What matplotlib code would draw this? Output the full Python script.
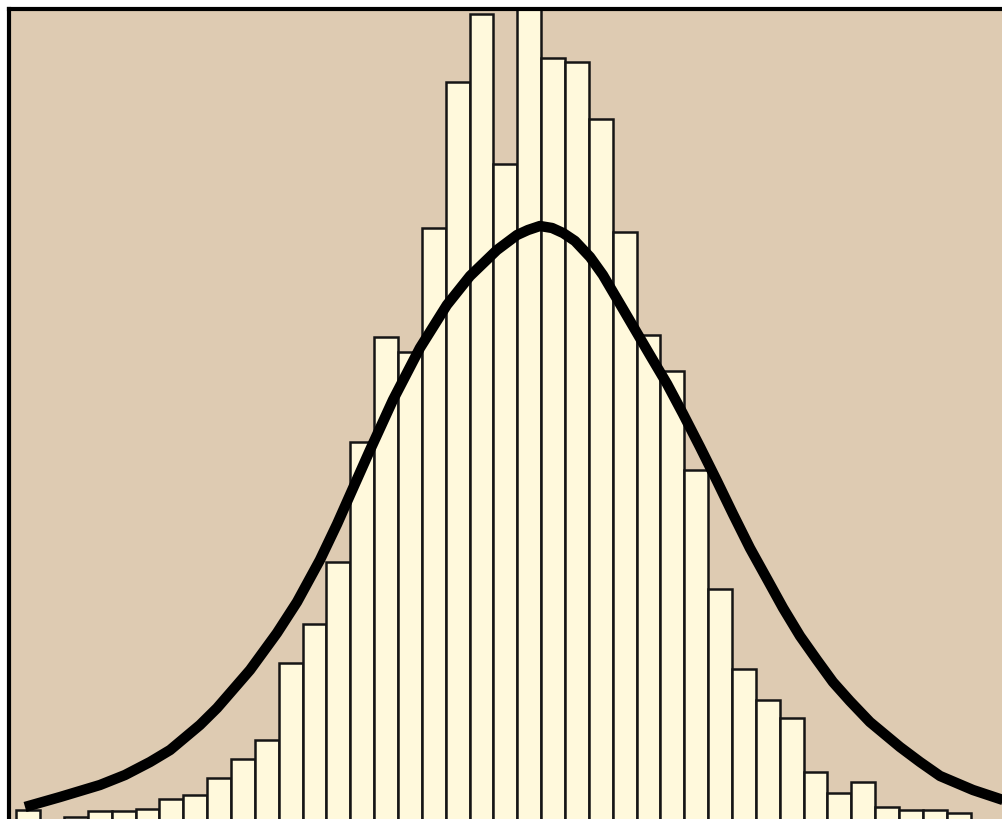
import matplotlib
matplotlib.use("Agg")
import matplotlib.pyplot as plt
import numpy as np

# Histogram bin heights (bin index 0..39)
bin_heights = [12, 0, 5, 11, 11, 13, 23, 27, 44, 63, 82, 159, 198, 260, 380,
               485, 470, 594, 740, 808, 658, 815, 764, 760, 703, 590, 487, 451,
               352, 233, 153, 122, 104, 50, 29, 40, 15, 12, 12, 9]

# Density curve points (same x units as bins)
curve_x = [0.37, 1.84, 3.51, 4.56, 5.61, 6.45, 7.70, 8.42, 9.80, 10.93, 11.77,
           12.73, 13.45, 14.12, 14.83, 15.79, 16.92, 18.05, 19.02, 20.15, 20.99,
           21.45, 21.95, 22.46, 22.92, 23.42, 24.05, 24.59, 25.43, 26.56, 27.28,
           27.95, 28.66, 29.37, 30.04, 30.75, 31.47, 32.14, 32.85, 33.56, 34.23,
           34.94, 35.78, 37.04, 37.88, 38.72, 40.10, 41.36]
curve_y = [15, 25, 37, 47, 60, 72, 97, 114, 152, 189, 220,
           262, 298, 334, 372, 422, 474, 517, 546, 572, 587,
           592, 596, 594, 589, 581, 565, 547, 513, 467, 438,
           408, 375, 341, 308, 274, 243, 214, 186, 162, 140,
           121, 100, 75, 60, 46, 32, 22]

W, H = 1003, 819
fig = plt.figure(figsize=(W / 100, H / 100), dpi=100, facecolor="white")

# axes: left/top spines visible, right/bottom extend past the figure
ax_left_px, ax_top_px, ax_right_px, ax_bottom_px = 9, 9, 1010, 822
ax = fig.add_axes([ax_left_px / W, 1 - ax_bottom_px / H,
                   (ax_right_px - ax_left_px) / W, (ax_bottom_px - ax_top_px) / H])
ax.set_facecolor("#DECBB2")

x0_px, bw_px = 16.2, 23.86
ax.set_xlim((ax_left_px - x0_px) / bw_px, (ax_right_px - x0_px) / bw_px)
ax.set_ylim(0, ax_bottom_px - ax_top_px)

edges = np.arange(len(bin_heights))
ax.bar(edges, bin_heights, width=1.0, align="edge", color="#FFF9DC",
       edgecolor="#151515", linewidth=1.8, zorder=2)

ax.plot(curve_x, curve_y, color="black", linewidth=7.5,
        solid_capstyle="butt", solid_joinstyle="round", zorder=3)

for side in ["left", "top", "right", "bottom"]:
    ax.spines[side].set_linewidth(3.0)
    ax.spines[side].set_color("black")
    ax.spines[side].set_zorder(4)
ax.set_xticks([])
ax.set_yticks([])

fig.savefig("out.png", dpi=100, facecolor="white")
